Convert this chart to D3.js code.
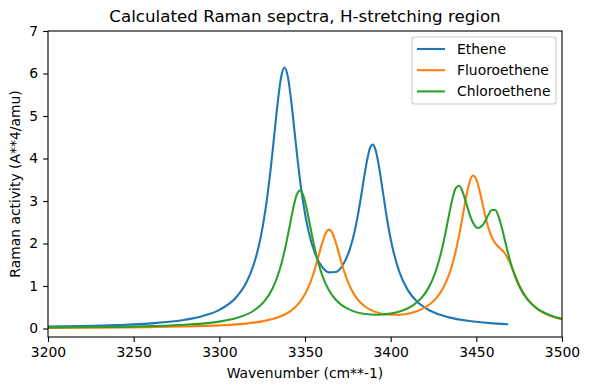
<!DOCTYPE html>
<html lang="en">
<head>
  <meta charset="UTF-8">
  <title>Calculated Raman spectra</title>
  <style>
    body { margin: 0; background: #fff; }
    svg text { font-family: "DejaVu Sans", sans-serif; fill: #000; }
  </style>
</head>
<body>
  <svg id="chart" width="590" height="390"></svg>

  <script src="https://d3js.org/d3.v7.min.js"></script>
  <script>
    // spectra (wavenumber in cm**-1, activity in A**4/amu)
    const ethX = [3200, 3220, 3240, 3260, 3280, 3290, 3300, 3310, 3316, 3320, 3324, 3327, 3330, 3332, 3334, 3336, 3338, 3340, 3342, 3344, 3346, 3349, 3352, 3356, 3360, 3364, 3368, 3372, 3376, 3379, 3382, 3384, 3386, 3388, 3389.5, 3391, 3393, 3395, 3398, 3401, 3405, 3410, 3416, 3424, 3434, 3446, 3458, 3468];
    const ethY = [0.043, 0.057, 0.080, 0.121, 0.207, 0.290, 0.439, 0.742, 1.100, 1.496, 2.117, 2.813, 3.765, 4.525, 5.293, 5.899, 6.139, 5.921, 5.338, 4.593, 3.858, 2.946, 2.297, 1.749, 1.450, 1.320, 1.330, 1.489, 1.844, 2.291, 2.929, 3.431, 3.911, 4.250, 4.328, 4.226, 3.854, 3.340, 2.548, 1.917, 1.339, 0.903, 0.609, 0.399, 0.262, 0.176, 0.127, 0.101];

    const fluX = [3200, 3230, 3260, 3280, 3300, 3315, 3325, 3333, 3339, 3344, 3348, 3352, 3355, 3358, 3360, 3362, 3364, 3366, 3368, 3370, 3373, 3376, 3380, 3385, 3391, 3398, 3405, 3412, 3418, 3423, 3427, 3431, 3434, 3437, 3440, 3442, 3444, 3446, 3448, 3450, 3452, 3454, 3457, 3460, 3463, 3466, 3469, 3472, 3475, 3479, 3484, 3490, 3500];
    const fluY = [0.015, 0.021, 0.033, 0.046, 0.073, 0.114, 0.167, 0.245, 0.347, 0.491, 0.678, 0.974, 1.300, 1.718, 2.008, 2.236, 2.326, 2.242, 2.019, 1.734, 1.324, 1.005, 0.722, 0.517, 0.391, 0.330, 0.325, 0.366, 0.450, 0.575, 0.734, 0.982, 1.261, 1.658, 2.202, 2.638, 3.082, 3.439, 3.599, 3.508, 3.224, 2.862, 2.377, 2.068, 1.916, 1.802, 1.601, 1.315, 1.032, 0.743, 0.513, 0.353, 0.216];

    const chlX = [3200, 3230, 3260, 3280, 3300, 3310, 3320, 3326, 3331, 3335, 3338, 3341, 3343, 3345, 3347, 3349, 3351, 3353, 3356, 3359, 3362, 3366, 3371, 3377, 3384, 3392, 3400, 3407, 3413, 3418, 3422, 3426, 3429, 3432, 3434, 3436, 3438, 3440, 3442, 3444, 3446, 3448, 3451, 3454, 3457, 3459, 3461, 3463, 3465, 3468, 3471, 3475, 3480, 3486, 3493, 3500];
    const chlY = [0.023, 0.034, 0.056, 0.088, 0.162, 0.245, 0.418, 0.627, 0.937, 1.352, 1.811, 2.399, 2.806, 3.126, 3.251, 3.131, 2.815, 2.411, 1.830, 1.378, 1.057, 0.773, 0.563, 0.426, 0.349, 0.324, 0.350, 0.423, 0.544, 0.720, 0.950, 1.312, 1.715, 2.252, 2.661, 3.043, 3.302, 3.359, 3.217, 2.962, 2.697, 2.493, 2.363, 2.449, 2.670, 2.789, 2.790, 2.635, 2.353, 1.853, 1.414, 0.994, 0.674, 0.456, 0.314, 0.230];

    const seriesNames = ["Ethene", "Fluoroethene", "Chloroethene"];
    const seriesColors = ["#1f77b4", "#ff7f0e", "#2ca02c"];
    const xTicks = [3200, 3250, 3300, 3350, 3400, 3450, 3500];
    const yTicks = [0, 1, 2, 3, 4, 5, 6, 7];

    const margin = { top: 31, right: 28, bottom: 53, left: 48 };
    const width = 590 - margin.left - margin.right;
    const height = 390 - margin.top - margin.bottom;

    const svg = d3.select("#chart");
    const g = svg.append("g")
      .attr("transform", `translate(${margin.left}, ${margin.top})`);

    const xScale = d3.scaleLinear().domain([3200, 3500]).range([0, width]);
    const yScale = d3.scaleLinear().domain([-0.2, 7]).range([height, 0]);

    g.append("clipPath").attr("id", "plotclip")
      .append("rect").attr("width", width).attr("height", height);

    const series = [
      { name: seriesNames[0], color: seriesColors[0], xs: ethX, ys: ethY },
      { name: seriesNames[1], color: seriesColors[1], xs: fluX, ys: fluY },
      { name: seriesNames[2], color: seriesColors[2], xs: chlX, ys: chlY }
    ];

    const line = d3.line()
      .x(d => xScale(d[0]))
      .y(d => yScale(d[1]))
      .curve(d3.curveMonotoneX);

    g.append("g").attr("clip-path", "url(#plotclip)")
      .selectAll("path")
      .data(series)
      .enter()
      .append("path")
      .attr("d", s => line(s.xs.map((x, i) => [x, s.ys[i]])))
      .attr("fill", "none")
      .attr("stroke", s => s.color)
      .attr("stroke-width", 2.1)
      .attr("stroke-linejoin", "round")
      .attr("stroke-linecap", "square");

    // axes
    const xAxis = d3.axisBottom(xScale)
      .tickValues(xTicks).tickFormat(d3.format("d"))
      .tickSizeOuter(0).tickSize(4.9).tickPadding(4.9);
    const yAxis = d3.axisLeft(yScale)
      .tickValues(yTicks).tickFormat(d3.format("d"))
      .tickSizeOuter(0).tickSize(4.9).tickPadding(4.9);

    const gx = g.append("g")
      .attr("transform", `translate(0, ${height})`)
      .call(xAxis);
    const gy = g.append("g").call(yAxis);

    [gx, gy].forEach(a => {
      a.select(".domain").remove();
      a.selectAll("line").attr("stroke", "#000").attr("stroke-width", 1.1);
      a.selectAll("text").attr("font-size", "13.9px")
        .attr("font-family", "DejaVu Sans, sans-serif").attr("fill", "#000");
    });

    // frame
    g.append("rect")
      .attr("width", width).attr("height", height)
      .attr("fill", "none").attr("stroke", "#000").attr("stroke-width", 1.1);

    // labels
    svg.append("text")
      .attr("x", margin.left + width / 2)
      .attr("y", 22)
      .attr("text-anchor", "middle")
      .style("font-size", "16.7px")
      .text("Calculated Raman sepctra, H-stretching region");

    svg.append("text")
      .attr("x", margin.left + width / 2)
      .attr("y", 378)
      .attr("text-anchor", "middle")
      .style("font-size", "13.9px")
      .text("Wavenumber (cm**-1)");

    svg.append("text")
      .attr("transform", "rotate(-90)")
      .attr("x", -(margin.top + height / 2))
      .attr("y", 20)
      .attr("text-anchor", "middle")
      .style("font-size", "13.9px")
      .text("Raman activity (A**4/amu)");

    // legend
    const legend = svg.append("g").attr("transform", "translate(412, 37)");
    legend.append("rect")
      .attr("width", 144).attr("height", 67)
      .attr("rx", 3).attr("ry", 3)
      .attr("fill", "#fff").attr("fill-opacity", 0.8)
      .attr("stroke", "#cccccc").attr("stroke-width", 1.1);

    const rows = legend.selectAll("g.row")
      .data(series)
      .enter()
      .append("g")
      .attr("class", "row")
      .attr("transform", (d, i) => `translate(0, ${12 + i * 21.2})`);

    rows.append("line")
      .attr("x1", 5).attr("x2", 33)
      .attr("stroke", d => d.color)
      .attr("stroke-width", 2.1);

    rows.append("text")
      .attr("x", 45)
      .attr("dy", "0.35em")
      .style("font-size", "13.9px")
      .text(d => d.name);
  </script>
</body>
</html>
